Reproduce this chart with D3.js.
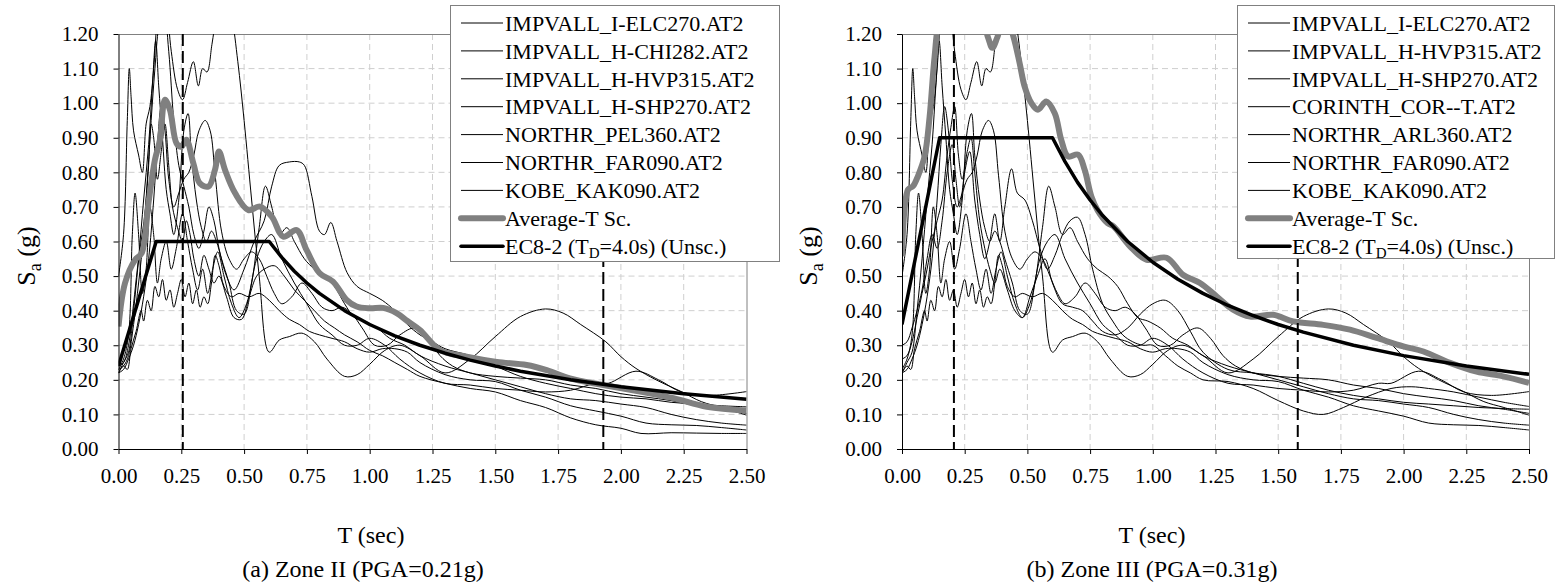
<!DOCTYPE html>
<html>
<head>
<meta charset="utf-8">
<style>
body { margin: 0; background: #fff; }
svg text { font-family: "Liberation Serif", "Tinos", "Times New Roman", "DejaVu Serif", serif; fill: #000; }
</style>
<title>Spectra</title>
</head>
<body>
<svg id="chart" width="1555" height="588" font-family="Liberation Serif, DejaVu Serif, serif"></svg>
<script src="https://d3js.org/d3.v7.min.js"></script>
<script>
// records, [T (sec), Sa (g)]
var elc270 = [[0,0.50],[0.02,0.62],[0.035,0.95],[0.043,1.10],[0.05,1.02],[0.06,0.92],[0.08,0.85],[0.095,0.80],[0.11,0.94],[0.125,0.99],[0.14,1.10],[0.155,1.25],[0.17,1.32],[0.19,1.28],[0.21,1.15],[0.235,1.04],[0.255,1.01],[0.275,1.06],[0.298,1.12],[0.318,1.05],[0.335,1.10],[0.352,1.09],[0.372,1.17],[0.39,1.25],[0.42,1.32],[0.45,1.25],[0.475,1.12],[0.50,0.95],[0.53,0.72],[0.56,0.50],[0.60,0.28],[0.64,0.315],[0.68,0.325],[0.73,0.335],[0.78,0.31],[0.83,0.26],[0.90,0.21],[0.95,0.215],[1.00,0.245],[1.06,0.285],[1.12,0.30],[1.2,0.27],[1.3,0.22],[1.4,0.26],[1.5,0.325],[1.6,0.383],[1.7,0.405],[1.77,0.393],[1.84,0.36],[1.94,0.31],[2.0,0.267],[2.06,0.233],[2.14,0.20],[2.24,0.166],[2.32,0.137],[2.4,0.12],[2.5,0.098]];
var chi282 = [[0,0.23],[0.02,0.24],[0.04,0.27],[0.06,0.36],[0.08,0.48],[0.10,0.62],[0.115,0.78],[0.13,0.95],[0.145,1.10],[0.16,1.22],[0.18,1.28],[0.2,1.15],[0.22,0.95],[0.24,0.82],[0.26,0.76],[0.28,0.70],[0.30,0.62],[0.32,0.58],[0.34,0.63],[0.36,0.70],[0.38,0.66],[0.40,0.58],[0.43,0.50],[0.46,0.46],[0.50,0.52],[0.54,0.60],[0.58,0.66],[0.61,0.76],[0.64,0.82],[0.68,0.83],[0.72,0.83],[0.74,0.82],[0.77,0.73],[0.80,0.63],[0.82,0.62],[0.845,0.655],[0.87,0.60],[0.91,0.51],[0.95,0.47],[1.0,0.45],[1.05,0.43],[1.1,0.40],[1.15,0.36],[1.2,0.33],[1.25,0.31],[1.3,0.29],[1.4,0.27],[1.5,0.24],[1.6,0.21],[1.7,0.19],[1.8,0.175],[1.9,0.16],[2.0,0.15],[2.1,0.145],[2.2,0.135],[2.3,0.13],[2.4,0.125],[2.5,0.122]];
var hvp315 = [[0,0.23],[0.02,0.26],[0.04,0.33],[0.055,0.62],[0.066,0.74],[0.08,0.62],[0.095,0.45],[0.11,0.52],[0.125,0.70],[0.14,0.62],[0.155,0.48],[0.17,0.55],[0.19,0.60],[0.21,0.52],[0.23,0.58],[0.255,0.68],[0.275,0.60],[0.295,0.52],[0.315,0.46],[0.335,0.52],[0.355,0.45],[0.375,0.52],[0.395,0.57],[0.42,0.50],[0.45,0.42],[0.48,0.38],[0.51,0.42],[0.55,0.55],[0.58,0.60],[0.61,0.62],[0.65,0.55],[0.70,0.48],[0.75,0.42],[0.80,0.36],[0.85,0.33],[0.90,0.30],[0.95,0.30],[1.0,0.32],[1.06,0.30],[1.12,0.26],[1.2,0.22],[1.3,0.19],[1.4,0.185],[1.5,0.175],[1.6,0.17],[1.7,0.165],[1.8,0.17],[1.9,0.19],[1.95,0.19],[2.06,0.225],[2.15,0.20],[2.24,0.165],[2.35,0.155],[2.5,0.166]];
var shp270 = [[0,0.22],[0.02,0.25],[0.04,0.28],[0.06,0.40],[0.08,0.55],[0.1,0.72],[0.12,0.88],[0.135,1.05],[0.148,1.18],[0.16,1.05],[0.175,0.90],[0.19,0.75],[0.205,0.68],[0.22,0.62],[0.24,0.72],[0.26,0.92],[0.277,0.97],[0.29,0.85],[0.31,0.72],[0.33,0.64],[0.35,0.60],[0.37,0.63],[0.39,0.60],[0.41,0.55],[0.44,0.48],[0.47,0.40],[0.50,0.39],[0.53,0.48],[0.56,0.64],[0.585,0.76],[0.61,0.70],[0.64,0.62],[0.67,0.64],[0.70,0.60],[0.74,0.55],[0.78,0.52],[0.82,0.50],[0.86,0.47],[0.90,0.42],[0.94,0.38],[0.98,0.37],[1.03,0.35],[1.08,0.32],[1.14,0.30],[1.2,0.27],[1.3,0.24],[1.4,0.22],[1.5,0.20],[1.6,0.18],[1.7,0.16],[1.8,0.145],[1.9,0.14],[2.0,0.13],[2.1,0.12],[2.2,0.10],[2.3,0.085],[2.4,0.075],[2.5,0.069]];
var pel360 = [[0,0.24],[0.02,0.25],[0.04,0.30],[0.06,0.42],[0.075,0.52],[0.09,0.60],[0.105,0.68],[0.12,0.82],[0.13,0.94],[0.14,0.90],[0.155,0.78],[0.17,0.86],[0.185,0.94],[0.20,0.82],[0.215,0.70],[0.235,0.64],[0.255,0.60],[0.27,0.66],[0.285,0.62],[0.30,0.55],[0.32,0.50],[0.34,0.56],[0.36,0.52],[0.38,0.48],[0.40,0.50],[0.43,0.44],[0.46,0.38],[0.49,0.375],[0.52,0.44],[0.55,0.50],[0.58,0.52],[0.62,0.53],[0.66,0.50],[0.70,0.46],[0.74,0.43],[0.78,0.40],[0.82,0.37],[0.86,0.35],[0.90,0.33],[0.95,0.31],[1.0,0.285],[1.05,0.27],[1.1,0.25],[1.15,0.23],[1.2,0.21],[1.3,0.19],[1.4,0.175],[1.5,0.165],[1.6,0.14],[1.7,0.12],[1.8,0.09],[1.9,0.07],[2.0,0.06],[2.08,0.045],[2.2,0.047],[2.3,0.046],[2.4,0.045],[2.5,0.045]];
var far090 = [[0,0.22],[0.02,0.24],[0.035,0.23],[0.05,0.29],[0.07,0.34],[0.09,0.40],[0.10,0.37],[0.115,0.43],[0.13,0.40],[0.145,0.47],[0.16,0.44],[0.175,0.49],[0.19,0.43],[0.205,0.46],[0.22,0.41],[0.235,0.45],[0.25,0.49],[0.265,0.44],[0.28,0.48],[0.295,0.42],[0.31,0.46],[0.325,0.41],[0.34,0.44],[0.355,0.42],[0.37,0.48],[0.385,0.56],[0.40,0.53],[0.42,0.47],[0.45,0.44],[0.48,0.45],[0.52,0.44],[0.56,0.45],[0.60,0.43],[0.64,0.40],[0.68,0.375],[0.72,0.36],[0.76,0.34],[0.80,0.33],[0.85,0.32],[0.90,0.31],[0.95,0.29],[1.0,0.28],[1.05,0.29],[1.10,0.29],[1.15,0.28],[1.2,0.25],[1.3,0.215],[1.4,0.20],[1.5,0.195],[1.6,0.17],[1.7,0.15],[1.8,0.125],[1.9,0.11],[2.0,0.095],[2.1,0.075],[2.2,0.07],[2.3,0.068],[2.4,0.062],[2.5,0.055]];
var kak090 = [[0,0.22],[0.02,0.23],[0.04,0.26],[0.06,0.30],[0.08,0.36],[0.10,0.44],[0.12,0.55],[0.14,0.72],[0.155,0.88],[0.17,0.99],[0.185,0.92],[0.20,0.78],[0.22,0.70],[0.24,0.74],[0.26,0.78],[0.28,0.80],[0.30,0.85],[0.32,0.92],[0.345,0.95],[0.365,0.92],[0.385,0.79],[0.41,0.63],[0.44,0.55],[0.47,0.52],[0.50,0.55],[0.53,0.57],[0.56,0.55],[0.59,0.50],[0.62,0.45],[0.65,0.42],[0.69,0.44],[0.73,0.48],[0.77,0.45],[0.81,0.41],[0.85,0.40],[0.89,0.41],[0.93,0.39],[0.97,0.35],[1.02,0.30],[1.07,0.30],[1.12,0.33],[1.18,0.35],[1.23,0.32],[1.28,0.27],[1.33,0.24],[1.4,0.22],[1.5,0.21],[1.6,0.205],[1.7,0.20],[1.8,0.185],[1.9,0.175],[2.0,0.16],[2.1,0.15],[2.2,0.14],[2.3,0.125],[2.4,0.115],[2.5,0.103]];
var corT = [[0,0.30],[0.02,0.31],[0.04,0.35],[0.06,0.40],[0.08,0.46],[0.10,0.55],[0.12,0.62],[0.14,0.58],[0.16,0.66],[0.18,0.80],[0.20,0.88],[0.215,0.78],[0.23,0.70],[0.25,0.80],[0.27,0.86],[0.29,0.72],[0.31,0.62],[0.33,0.55],[0.35,0.60],[0.37,0.68],[0.39,0.60],[0.41,0.70],[0.437,0.81],[0.46,0.74],[0.49,0.72],[0.52,0.66],[0.55,0.58],[0.58,0.52],[0.61,0.56],[0.64,0.62],[0.67,0.66],[0.70,0.67],[0.73,0.62],[0.76,0.52],[0.80,0.42],[0.84,0.37],[0.88,0.33],[0.92,0.31],[0.96,0.30],[1.0,0.30],[1.05,0.27],[1.1,0.24],[1.15,0.22],[1.2,0.20],[1.3,0.195],[1.4,0.175],[1.5,0.14],[1.6,0.11],[1.68,0.10],[1.76,0.12],[1.85,0.15],[1.95,0.175],[2.03,0.18],[2.1,0.175],[2.2,0.165],[2.3,0.15],[2.4,0.135],[2.5,0.123]];
var arl360 = [[0,0.26],[0.02,0.27],[0.04,0.31],[0.06,0.38],[0.08,0.45],[0.10,0.52],[0.12,0.60],[0.14,0.66],[0.16,0.72],[0.18,0.85],[0.195,0.93],[0.21,0.99],[0.225,0.85],[0.24,0.78],[0.26,0.86],[0.275,0.90],[0.29,0.80],[0.31,0.66],[0.33,0.58],[0.35,0.52],[0.37,0.48],[0.39,0.52],[0.42,0.46],[0.45,0.40],[0.48,0.38],[0.51,0.44],[0.54,0.50],[0.57,0.55],[0.60,0.48],[0.64,0.42],[0.68,0.41],[0.72,0.40],[0.76,0.37],[0.80,0.34],[0.85,0.33],[0.90,0.35],[0.95,0.39],[1.0,0.42],[1.05,0.43],[1.1,0.40],[1.15,0.34],[1.2,0.28],[1.3,0.23],[1.4,0.22],[1.5,0.21],[1.6,0.19],[1.7,0.17],[1.8,0.155],[1.9,0.145],[2.0,0.135],[2.1,0.13],[2.2,0.125],[2.3,0.12],[2.4,0.117],[2.5,0.115]];

var avgZoneII = [[0,0.354],[0.026,0.48],[0.066,0.547],[0.092,0.566],[0.119,0.71],[0.145,0.836],[0.165,0.894],[0.185,1.01],[0.205,0.98],[0.231,0.884],[0.25,0.874],[0.27,0.894],[0.298,0.826],[0.324,0.768],[0.358,0.759],[0.384,0.807],[0.40,0.86],[0.424,0.807],[0.464,0.74],[0.517,0.691],[0.563,0.701],[0.61,0.672],[0.656,0.614],[0.709,0.633],[0.749,0.575],[0.80,0.509],[0.854,0.484],[0.908,0.431],[0.948,0.412],[1.0,0.407],[1.054,0.408],[1.107,0.393],[1.15,0.37],[1.2,0.344],[1.28,0.286],[1.386,0.267],[1.506,0.252],[1.625,0.243],[1.705,0.228],[1.797,0.204],[1.93,0.185],[2.076,0.166],[2.209,0.147],[2.342,0.122],[2.5,0.111]];
var avgZoneIII = [[0,0.557],[0.024,0.75],[0.044,0.76],[0.064,0.79],[0.09,0.846],[0.11,0.96],[0.13,1.135],[0.15,1.24],[0.2,1.3],[0.3,1.28],[0.343,1.19],[0.36,1.16],[0.38,1.19],[0.40,1.23],[0.43,1.22],[0.445,1.19],[0.469,1.116],[0.489,1.048],[0.516,1.0],[0.542,0.981],[0.575,1.005],[0.609,0.971],[0.635,0.894],[0.662,0.846],[0.702,0.851],[0.728,0.808],[0.755,0.73],[0.78,0.69],[0.82,0.653],[0.843,0.644],[0.909,0.586],[0.976,0.547],[1.055,0.553],[1.12,0.504],[1.188,0.48],[1.255,0.441],[1.32,0.403],[1.388,0.383],[1.48,0.388],[1.56,0.369],[1.68,0.359],[1.786,0.345],[1.893,0.321],[1.999,0.297],[2.079,0.282],[2.185,0.249],[2.291,0.224],[2.397,0.21],[2.5,0.191]];
var ec8ZoneII = [[0,0.24],[0.15,0.60],[0.6,0.60],[0.65,0.554],[0.7,0.514],[0.75,0.48],[0.8,0.45],[0.9,0.40],[1.0,0.36],[1.1,0.327],[1.2,0.30],[1.3,0.277],[1.4,0.257],[1.5,0.24],[1.6,0.225],[1.8,0.20],[2.0,0.18],[2.25,0.16],[2.5,0.144]];
var ec8ZoneIII = [[0,0.36],[0.15,0.90],[0.6,0.90],[0.65,0.831],[0.7,0.771],[0.75,0.72],[0.8,0.675],[0.9,0.60],[1.0,0.54],[1.1,0.491],[1.2,0.45],[1.3,0.415],[1.4,0.386],[1.5,0.36],[1.6,0.338],[1.8,0.30],[2.0,0.27],[2.25,0.24],[2.5,0.216]];

var xTicks = [0, 0.25, 0.5, 0.75, 1.0, 1.25, 1.5, 1.75, 2.0, 2.25, 2.5];
var yTicks = [0, 0.1, 0.2, 0.3, 0.4, 0.5, 0.6, 0.7, 0.8, 0.9, 1.0, 1.1, 1.2];

var panels = [
  { x0: 118.5, x1: 746.5, labelX: 35, titleX: 371, capX: 363,
    caption: "(a) Zone II (PGA=0.21g)",
    records: [elc270, chi282, hvp315, shp270, pel360, far090, kak090],
    names: ["IMPVALL_I-ELC270.AT2", "IMPVALL_H-CHI282.AT2", "IMPVALL_H-HVP315.AT2", "IMPVALL_H-SHP270.AT2", "NORTHR_PEL360.AT2", "NORTHR_FAR090.AT2", "KOBE_KAK090.AT2"],
    avg: avgZoneII, ec8: ec8ZoneII, marks: [0.256, 1.93],
    legend: { x: 450, y: 5, w: 329, h: 256 } },
  { x0: 902, x1: 1529, labelX: 817, titleX: 1152, capX: 1152,
    caption: "(b) Zone III (PGA=0.31g)",
    records: [elc270, hvp315, shp270, corT, arl360, far090, kak090],
    names: ["IMPVALL_I-ELC270.AT2", "IMPVALL_H-HVP315.AT2", "IMPVALL_H-SHP270.AT2", "CORINTH_COR--T.AT2", "NORTHR_ARL360.AT2", "NORTHR_FAR090.AT2", "KOBE_KAK090.AT2"],
    avg: avgZoneIII, ec8: ec8ZoneIII, marks: [0.207, 1.578],
    legend: { x: 1237, y: 5, w: 317, h: 253 } }
];

var svg = d3.select("#chart");
var serif = "'Liberation Serif', Tinos, 'Times New Roman', 'DejaVu Serif', serif";
var yTop = 34, yBot = 449;
var fmt = d3.format(".2f");

panels.forEach(function(p, k) {
  var x = d3.scaleLinear().domain([0, 2.5]).range([p.x0, p.x1]);
  var y = d3.scaleLinear().domain([0, 1.2]).range([yBot, yTop]);
  var g = svg.append("g").attr("font-family", serif);

  var clipId = "clip" + k;
  svg.append("clipPath").attr("id", clipId)
    .append("rect").attr("x", p.x0).attr("y", yTop)
    .attr("width", p.x1 - p.x0).attr("height", yBot - yTop);

  // grid
  g.selectAll(".vg").data(xTicks.slice(1, -1)).enter().append("line")
    .attr("x1", function(d) { return x(d); }).attr("x2", function(d) { return x(d); })
    .attr("y1", yTop).attr("y2", yBot)
    .attr("stroke", "#cfcfcf").attr("stroke-dasharray", "6,4");
  g.selectAll(".hg").data(yTicks.slice(1, -1)).enter().append("line")
    .attr("y1", function(d) { return y(d); }).attr("y2", function(d) { return y(d); })
    .attr("x1", p.x0).attr("x2", p.x1)
    .attr("stroke", "#cfcfcf").attr("stroke-dasharray", "6,4");

  // frame top / right
  g.append("path")
    .attr("d", "M" + p.x0 + "," + (yTop + 0.5) + "H" + (p.x1 + 0.5) + "V" + yBot)
    .attr("fill", "none").attr("stroke", "#808080");

  var line = d3.line()
    .x(function(d) { return x(d[0]); })
    .y(function(d) { return y(d[1]); })
    .curve(d3.curveCatmullRom.alpha(0.5));
  var straight = d3.line()
    .x(function(d) { return x(d[0]); })
    .y(function(d) { return y(d[1]); });

  var plot = g.append("g").attr("clip-path", "url(#" + clipId + ")");
  plot.selectAll(".rec").data(p.records).enter().append("path")
    .attr("d", line)
    .attr("fill", "none").attr("stroke", "#000").attr("stroke-width", 1);
  plot.append("path").attr("d", line(p.avg))
    .attr("fill", "none").attr("stroke", "#808080").attr("stroke-width", 6)
    .attr("stroke-linejoin", "round");
  plot.append("path").attr("d", straight(p.ec8))
    .attr("fill", "none").attr("stroke", "#000").attr("stroke-width", 3.5)
    .attr("stroke-linejoin", "round");
  plot.selectAll(".mark").data(p.marks).enter().append("line")
    .attr("x1", function(d) { return x(d); }).attr("x2", function(d) { return x(d); })
    .attr("y1", yTop).attr("y2", yBot)
    .attr("stroke", "#000").attr("stroke-width", 2).attr("stroke-dasharray", "12,5");

  // axes
  var xAxis = g.append("g").attr("transform", "translate(0," + yBot + ")")
    .call(d3.axisBottom(x).tickValues(xTicks).tickSize(5).tickSizeOuter(0).tickFormat(fmt));
  xAxis.attr("font-family", serif).attr("font-size", 21);
  xAxis.selectAll("text").attr("dy", null).attr("y", 34);
  var yAxis = g.append("g").attr("transform", "translate(" + p.x0 + ",0)")
    .call(d3.axisLeft(y).tickValues(yTicks).tickSize(5).tickSizeOuter(0).tickFormat(fmt));
  yAxis.attr("font-family", serif).attr("font-size", 21);
  yAxis.selectAll("text").attr("x", -20);
  g.selectAll(".domain").attr("stroke", "#000");

  // titles
  var yl = g.append("text")
    .attr("transform", "translate(" + p.labelX + "," + 256 + ") rotate(-90)")
    .attr("text-anchor", "middle").attr("font-size", 26);
  yl.append("tspan").text("S");
  yl.append("tspan").attr("font-size", 18).attr("dy", 6).text("a");
  yl.append("tspan").attr("dy", -6).text(" (g)");

  g.append("text").attr("x", p.titleX).attr("y", 543)
    .attr("text-anchor", "middle").attr("font-size", 24).text("T (sec)");
  g.append("text").attr("x", p.capX).attr("y", 577)
    .attr("text-anchor", "middle").attr("font-size", 24).text(p.caption);

  // legend
  var L = p.legend;
  var lg = g.append("g");
  lg.append("rect").attr("x", L.x + 0.5).attr("y", L.y + 0.5)
    .attr("width", L.w).attr("height", L.h)
    .attr("fill", "#fff").attr("stroke", "#808080");
  var items = p.names.map(function(n) { return { name: n, color: "#000", w: 1 }; });
  items.push({ name: "Average-T Sc.", color: "#808080", w: 6 });
  items.push({ name: "EC8", color: "#000", w: 3.5 });
  var row = lg.selectAll(".item").data(items).enter().append("g")
    .attr("transform", function(d, i) { return "translate(0," + (L.y + 18 + i * 27.9) + ")"; });
  row.append("line").attr("x1", L.x + 11).attr("x2", L.x + 53)
    .attr("stroke", function(d) { return d.color; })
    .attr("stroke-width", function(d) { return d.w; })
    .attr("stroke-linecap", function(d) { return d.w > 2 ? "round" : "butt"; });
  row.append("text").attr("x", L.x + 55).attr("dy", "0.35em").attr("font-size", 22)
    .each(function(d) {
      var t = d3.select(this);
      if (d.name === "EC8") {
        t.append("tspan").text("EC8-2 (T");
        t.append("tspan").attr("font-size", 15).attr("dy", 4).text("D");
        t.append("tspan").attr("dy", -4).text("=4.0s) (Unsc.)");
      } else {
        t.text(d.name);
      }
    });
});
</script>
</body>
</html>
